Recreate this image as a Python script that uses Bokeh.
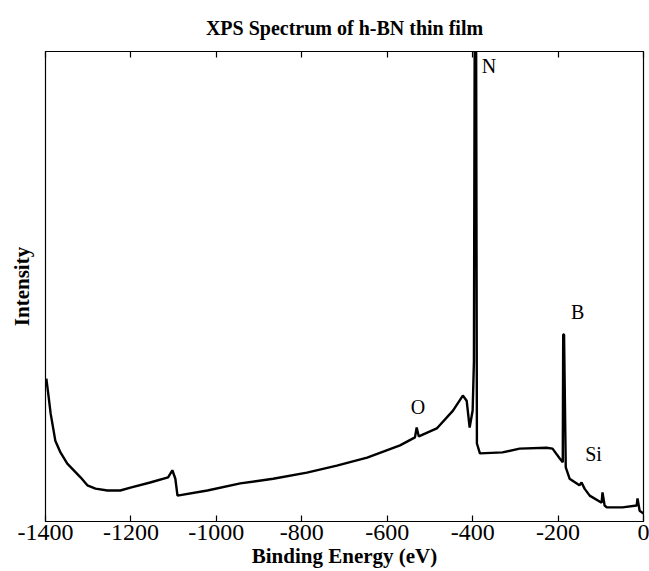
from bokeh.plotting import figure
from bokeh.models import LinearAxis, FixedTicker, Range1d, Label
from bokeh.embed import file_html
from bokeh.resources import INLINE

# Binding energy (eV) and intensity (arb. units)
energy = [-1398, -1393, -1388, -1377, -1365, -1349, -1318, -1302, -1283, -1255,
          -1225, -1201, -1155, -1113, -1103, -1096, -1091, -1021, -944, -867,
          -788, -718, -647, -570, -535, -531, -526, -484, -446, -423,
          -414, -407, -400, -397, -395, -392, -390, -383, -330, -290,
          -227, -213, -196, -189, -188, -186, -182, -173, -150, -145,
          -138, -126, -98, -96, -91, -86, -49, -16, -14, -9, 0]
intensity = [30.4, 26.8, 23.0, 17.2, 14.7, 12.3, 9.4, 7.7, 7.0, 6.6,
             6.6, 7.2, 8.3, 9.4, 10.9, 9.1, 5.5, 6.6, 8.1, 9.1,
             10.4, 11.9, 13.6, 16.2, 17.9, 20.0, 18.1, 19.8, 23.6, 26.8,
             25.7, 20.0, 23.6, 34.0, 110.0, 110.0, 16.6, 14.5, 14.7, 15.5,
             15.7, 15.5, 13.4, 12.6, 39.8, 39.8, 11.5, 9.1, 7.7, 8.3,
             7.0, 5.5, 4.0, 6.2, 3.4, 3.0, 3.0, 3.4, 4.9, 2.3, 1.7]

tick_values = [-1400, -1200, -1000, -800, -600, -400, -200, 0]
tick_labels = ["-1400", "-1200", "-1000", "-800", "-600", "-400", "-200", "0"]

peak_names = ["N", "B", "O", "Si"]
peak_x = [-362, -154, -528, -117]
peak_y = [97, 44.5, 24.3, 14.3]

x_title = "Binding Energy (eV)"
y_title = "Intensity"

SERIF = "Liberation Serif"

p = figure(width=649, height=571, output_backend="svg", toolbar_location=None,
           x_range=Range1d(-1400, 0), y_range=Range1d(0, 100),
           min_border_left=45, min_border_right=5, min_border_top=51, min_border_bottom=50,
           title="XPS Spectrum of h-BN thin film")
p.title.text_font = SERIF
p.title.text_font_style = "bold"
p.title.text_font_size = "20px"
p.title.text_color = "black"
p.title.align = "center"
p.title.offset = 0
p.title.standoff = 26

p.grid.visible = False
p.outline_line_color = "black"
p.outline_line_width = 1.2

p.line(energy, intensity, line_color="black", line_width=2.4)

# bottom axis
xa = p.xaxis[0]
xa.ticker = FixedTicker(ticks=tick_values)
xa.major_label_overrides = dict(zip(tick_values, tick_labels))
xa.major_tick_in = 6
xa.major_tick_out = 0
xa.major_tick_line_color = "black"
xa.major_tick_line_width = 1.2
xa.minor_tick_line_color = None
xa.axis_line_color = "black"
xa.major_label_text_font = SERIF
xa.major_label_text_font_size = "24px"
xa.major_label_text_color = "black"
xa.major_label_standoff = 3
xa.axis_label = x_title
xa.axis_label_text_font = SERIF
xa.axis_label_text_font_style = "bold"
xa.axis_label_text_font_size = "21px"
xa.axis_label_text_color = "black"
xa.axis_label_standoff = 1

# left axis
ya = p.yaxis[0]
ya.major_tick_line_color = None
ya.minor_tick_line_color = None
ya.major_label_text_font_size = "0px"
ya.major_label_text_color = None
ya.axis_line_color = "black"
ya.axis_label = y_title
ya.axis_label_text_font = SERIF
ya.axis_label_text_font_style = "bold"
ya.axis_label_text_font_size = "21px"
ya.axis_label_text_color = "black"
ya.axis_label_standoff = 6

# top axis with inward ticks
ta = LinearAxis(ticker=FixedTicker(ticks=tick_values))
ta.major_tick_in = 6
ta.major_tick_out = 0
ta.major_tick_line_color = "black"
ta.major_tick_line_width = 1.2
ta.minor_tick_line_color = None
ta.major_label_text_color = None
ta.major_label_text_font_size = "0px"
ta.major_label_standoff = 0
p.add_layout(ta, "above")

# right axis line
ra = LinearAxis()
ra.major_tick_line_color = None
ra.minor_tick_line_color = None
ra.major_label_text_color = None
ra.major_label_text_font_size = "0px"
ra.major_label_standoff = 0
p.add_layout(ra, "right")

for name, x, y in zip(peak_names, peak_x, peak_y):
    p.add_layout(Label(x=x, y=y, text=name, text_font=SERIF, text_font_size="20px",
                       text_align="center", text_baseline="middle", text_color="black"))

open("out.html", "w").write(file_html(p, INLINE))
